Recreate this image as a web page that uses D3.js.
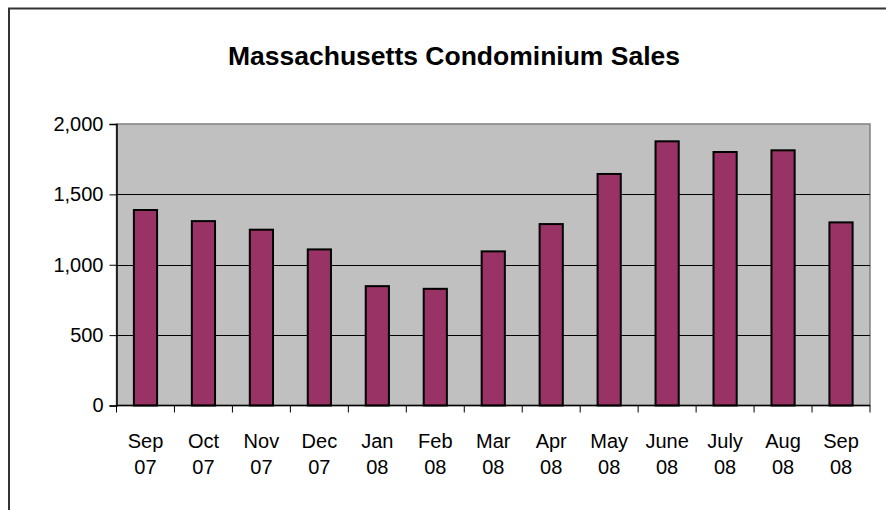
<!DOCTYPE html>
<html>
<head>
<meta charset="utf-8">
<script src="https://cdn.jsdelivr.net/npm/d3@7"></script>
<style>
  body { margin: 0; background: #fff; }
  svg { display: block; font-family: "Liberation Sans", Arial, sans-serif; }
</style>
</head>
<body>
<svg width="886" height="510"></svg>
<script>
// ** DATA ** //
const months = ["Sep", "Oct", "Nov", "Dec", "Jan", "Feb", "Mar", "Apr", "May", "June", "July", "Aug", "Sep"];
const years = ["07", "07", "07", "07", "08", "08", "08", "08", "08", "08", "08", "08", "08"];
const sales = [1389, 1310, 1249, 1109, 848, 829, 1095, 1289, 1645, 1877, 1801, 1813, 1301];
const yTicks = [0, 500, 1000, 1500, 2000];

const onReady = () => {
  const svg = d3.select("svg");

  // chart frame (only top and left edges fall inside the picture)
  svg.append("path")
    .attr("d", "M9,520V8.5H900")
    .attr("fill", "none")
    .attr("stroke", "#333")
    .attr("stroke-width", 2);

  svg.append("text")
    .attr("x", 454)
    .attr("y", 65)
    .attr("text-anchor", "middle")
    .attr("font-size", 26.5)
    .attr("font-weight", "bold")
    .text("Massachusetts Condominium Sales");

  const plot = { left: 116.5, right: 870, top: 124, bottom: 405.5 };
  const keys = d3.range(sales.length);

  const x = d3.scaleBand()
    .domain(keys)
    .range([plot.left, plot.right])
    .paddingInner(0.6)
    .paddingOuter(0.3);

  // full band scale for tick positions
  const xb = d3.scaleBand().domain(keys).range([plot.left, plot.right]);

  const y = d3.scaleLinear().domain([0, 2000]).range([plot.bottom, plot.top]);

  // plot background
  svg.append("rect")
    .attr("x", plot.left)
    .attr("y", plot.top)
    .attr("width", plot.right - plot.left)
    .attr("height", plot.bottom - plot.top)
    .attr("fill", "#c0c0c0")
    .attr("stroke", "#808080")
    .attr("stroke-width", 1.5);

  // gridlines
  svg.append("g")
    .selectAll("line")
    .data(yTicks.filter(d => d > 0 && d < 2000))
    .enter()
    .append("line")
    .attr("x1", plot.left)
    .attr("x2", plot.right)
    .attr("y1", d => Math.round(y(d)) + 0.5)
    .attr("y2", d => Math.round(y(d)) + 0.5)
    .attr("stroke", "#000")
    .attr("stroke-width", 1);

  // bars
  svg.append("g")
    .selectAll("rect")
    .data(keys)
    .enter()
    .append("rect")
    .attr("x", d => x(d))
    .attr("y", d => y(sales[d]))
    .attr("width", x.bandwidth())
    .attr("height", d => plot.bottom - y(sales[d]))
    .attr("fill", "#993366")
    .attr("stroke", "#000")
    .attr("stroke-width", 2);

  // y axis
  const yAxis = svg.append("g")
    .attr("transform", `translate(${plot.left},0)`)
    .call(d3.axisLeft(y).tickValues(yTicks).tickSize(7).tickPadding(6).tickFormat(d3.format(",")));
  yAxis.select(".domain").attr("stroke", "#000").attr("stroke-width", 1.5);
  yAxis.selectAll("text").attr("font-size", 20).attr("font-family", "Liberation Sans, Arial, sans-serif").attr("fill", "#000");

  // x axis
  const xAxis = svg.append("g")
    .attr("transform", `translate(0,${plot.bottom})`);
  xAxis.append("line")
    .attr("x1", plot.left)
    .attr("x2", plot.right)
    .attr("stroke", "#000")
    .attr("stroke-width", 1.5);
  xAxis.selectAll("line.tick")
    .data(keys.concat([sales.length]))
    .enter()
    .append("line")
    .attr("class", "tick")
    .attr("x1", d => d < sales.length ? xb(d) : plot.right)
    .attr("x2", d => d < sales.length ? xb(d) : plot.right)
    .attr("y1", 0)
    .attr("y2", 7)
    .attr("stroke", "#000");

  const labels = xAxis.selectAll("text")
    .data(keys)
    .enter()
    .append("text")
    .attr("text-anchor", "middle")
    .attr("font-size", 20)
    .attr("x", d => xb(d) + xb.bandwidth() / 2);
  labels.append("tspan")
    .attr("x", d => xb(d) + xb.bandwidth() / 2)
    .attr("y", 42)
    .text(d => months[d]);
  labels.append("tspan")
    .attr("x", d => xb(d) + xb.bandwidth() / 2)
    .attr("y", 68)
    .text(d => years[d]);
};
document.addEventListener("DOMContentLoaded", onReady);
</script>
</body>
</html>
